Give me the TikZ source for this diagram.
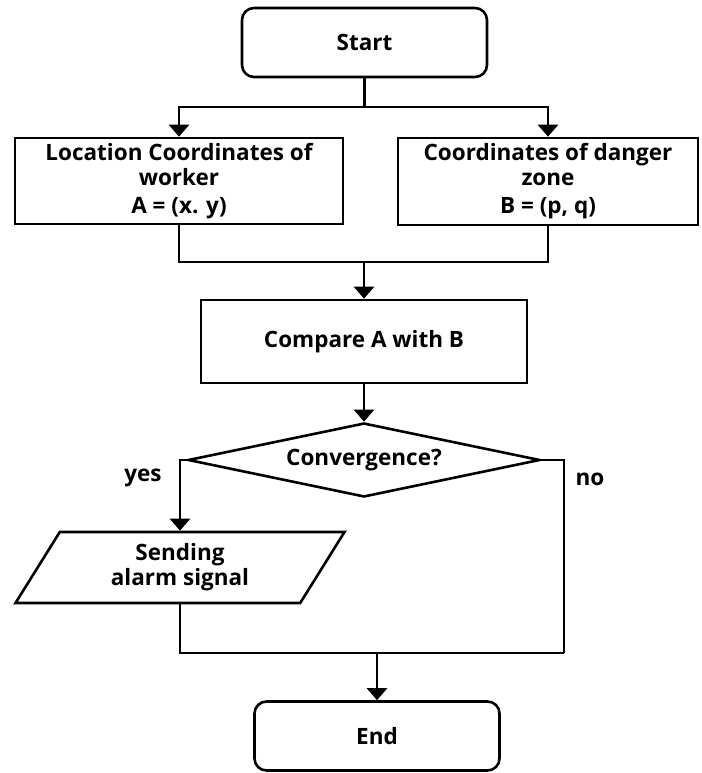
\documentclass[tikz,border=0pt]{standalone}
\usepackage{fontspec}
\setmainfont{Open Sans}
\usetikzlibrary{arrows.meta, shapes.geometric, positioning, calc}

\begin{document}
\begin{tikzpicture}[x=1pt, y=1pt, line width=2.6pt,
  font=\bfseries\fontsize{22.5}{25}\selectfont,
  >={Triangle[length=12pt, width=20pt]}]
\tikzset{
  term/.style={draw, rounded corners=12pt, minimum width=245pt, minimum height=69pt},
  procbox/.style={draw, align=center, inner sep=0pt},
  decide/.style={draw, diamond, aspect=4.76, inner sep=0pt, minimum width=352pt, minimum height=74pt},
  iobox/.style={draw, trapezium, trapezium left angle=47, trapezium right angle=133,
    trapezium stretches body, align=center, inner sep=0pt,
    minimum width=329pt, minimum height=71pt}
}
  \useasboundingbox (0,0) rectangle (701,-773);

  \node [term] (start) at (364.5,-42.5) {Start};
  \node [procbox, minimum width=328pt, minimum height=86pt] (loc) at (179,-181)
    {Location Coordinates of\\worker\\[3pt]A = (x. y)};
  \node [procbox, minimum width=300pt, minimum height=87pt] (zone) at (548,-181.5)
    {Coordinates of danger\\zone\\[3pt]B = (p, q)};
  \node [procbox, minimum width=326pt, minimum height=83pt] (cmp) at (364,-341.5)
    {Compare A with B};
  \node [decide] (conv) at (364,-460) {Convergence?};
  \node [iobox] (alarm) at (180,-567.5) {Sending\\alarm signal};
  \node [term] (stop) at (377,-736) {End};

  \node (yes) at (143,-478) {yes};
  \node (no) at (590,-479) {no};

  % split after start
  \coordinate (split) at (364.5,-107);
  \draw (start.south) -- (split);
  \draw [->] (split) -| (loc.north);
  \draw [->] (split) -| (zone.north);

  % merge into compare
  \coordinate (merge) at (364,-262);
  \draw (loc.south) |- (merge);
  \draw (zone.south) |- (merge);
  \draw [->] (merge) -- (cmp.north);
  \draw [->] (cmp.south) -- (conv.north);

  % decision branches
  \coordinate (nojoin) at (564,-653);
  \draw [->] (conv.west) -| (alarm.north);
  \draw (conv.east) -| (nojoin);
  \draw (alarm.south) |- (nojoin);
  \draw [->] (stop.north |- nojoin) -- (stop.north);
\end{tikzpicture}
\end{document}
